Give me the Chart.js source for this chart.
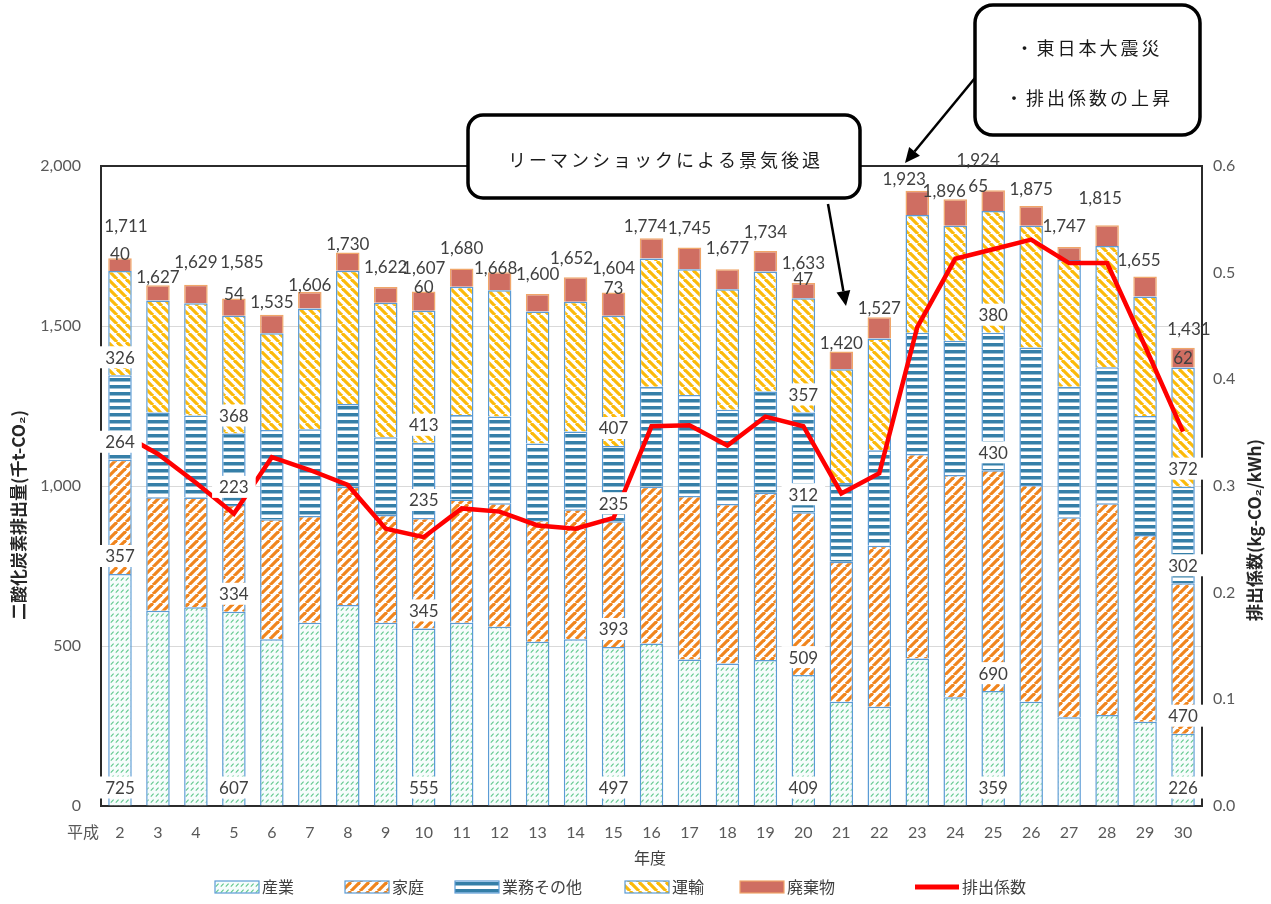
<!DOCTYPE html>
<html>
<head>
<meta charset="utf-8">
<script src="https://cdn.jsdelivr.net/npm/chart.js@4/dist/chart.umd.min.js"></script>
<style>
  html, body { margin: 0; padding: 0; background: #fff; }
</style>
</head>
<body>
<canvas id="chart" width="1271" height="904"></canvas>
<script>
// 平成 years
const years = ['2','3','4','5','6','7','8','9','10','11','12','13','14','15','16','17','18','19','20','21','22','23','24','25','26','27','28','29','30'];

// 千t-CO2 by sector
const industry   = [725,610,621,607,521,573,628,573,555,573,560,513,521,497,508,458,445,456,409,326,310,461,340,359,326,277,284,263,226];
const household  = [357,355,343,334,375,333,370,336,345,385,386,381,406,393,490,511,499,523,509,437,503,639,694,690,677,625,662,584,470];
const commercial = [264,265,256,223,279,271,258,243,235,264,271,239,243,235,312,315,294,316,312,246,299,379,420,430,430,408,425,372,302];
const transport  = [326,350,351,368,302,378,417,421,413,401,395,412,406,407,401,393,377,375,357,356,349,368,359,380,380,396,379,373,372];
const waste      = [40,47,58,54,58,51,57,49,60,57,56,55,76,73,63,68,62,64,47,55,66,76,83,65,62,41,65,63,62];
const totals     = [1711,1627,1629,1585,1535,1606,1730,1622,1607,1680,1668,1600,1652,1604,1774,1745,1677,1734,1633,1420,1527,1923,1896,1924,1875,1747,1815,1655,1431];

// kg-CO2/kWh
const factor = [0.350,0.330,0.303,0.274,0.327,0.315,0.301,0.260,0.252,0.279,0.276,0.263,0.260,0.270,0.356,0.357,0.338,0.365,0.356,0.293,0.312,0.449,0.513,0.522,0.531,0.509,0.509,0.431,0.351];

// years whose sector values are labelled
const labelledYears = ['2','5','10','15','20','25','30'];

// where the total labels sit (px above bar top, px sideways)
const totalLift = [32,8,22,36,12,7,8,19,23,20,4,19,19,24,12,19,21,19,20,8,9,11,8,30,16,20,27,16,18];
const totalDx   = [6,0,0,8,0,0,0,0,0,0,-4,0,-4,0,-6,0,0,0,0,0,0,-13,-11,-15,0,-5,-7,-6,6];

const canvas = document.getElementById('chart');
const ctx = canvas.getContext('2d');

const NUM_FONT = '17px Lato, "Noto Sans", sans-serif';
const JP_FONT = '"Noto Sans CJK JP", sans-serif';
const TEXT = '#404040';
const BAR_EDGE = '#5B9BD5';

function makePattern(w, h, draw) {
  const c = document.createElement('canvas');
  c.width = w; c.height = h;
  const g = c.getContext('2d');
  draw(g, w, h);
  return ctx.createPattern(c, 'repeat');
}

const pIndustry = makePattern(5, 6, (g, w, h) => {
  g.fillStyle = '#F6FCFC'; g.fillRect(0, 0, w, h);
  g.strokeStyle = '#5EC78B'; g.lineWidth = 1.1;
  g.beginPath(); g.moveTo(0.8, 4.6); g.lineTo(3.6, 1.6); g.stroke();
});
const pHousehold = makePattern(9, 9, (g, w, h) => {
  g.fillStyle = '#fff'; g.fillRect(0, 0, w, h);
  g.strokeStyle = '#F0851E'; g.lineWidth = 3.2;
  for (const o of [-w, 0, w]) { g.beginPath(); g.moveTo(o, h); g.lineTo(o + w, 0); g.stroke(); }
});
const pCommercial = makePattern(6, 7, (g, w, h) => {
  g.fillStyle = '#fff'; g.fillRect(0, 0, w, h);
  g.fillStyle = '#357FA8'; g.fillRect(0, 0, w, 3.5);
});
const pTransport = makePattern(9, 9, (g, w, h) => {
  g.fillStyle = '#fff'; g.fillRect(0, 0, w, h);
  g.strokeStyle = '#FBBA0A'; g.lineWidth = 3.2;
  for (const o of [-w, 0, w]) { g.beginPath(); g.moveTo(o, 0); g.lineTo(o + w, h); g.stroke(); }
});

function barSet(label, data, fill, edge) {
  return {
    type: 'bar', label, data, yAxisID: 'y', order: 1,
    backgroundColor: fill, borderColor: edge || BAR_EDGE, borderWidth: 1.5,
    barPercentage: 0.62, categoryPercentage: 1
  };
}

const seriesList = [industry, household, commercial, transport];

const frame = {
  id: 'frame',
  beforeDatasetsDraw(chart) {
    const a = chart.chartArea, c = chart.ctx;
    c.save();
    c.strokeStyle = '#2b2b2b'; c.lineWidth = 2;
    c.strokeRect(a.left, a.top, a.right - a.left, a.bottom - a.top);
    c.restore();
  }
};

const valueLabels = {
  id: 'valueLabels',
  afterDatasetsDraw(chart) {
    const c = chart.ctx;
    c.save();
    c.font = NUM_FONT; c.textAlign = 'center'; c.textBaseline = 'middle';
    years.forEach((yr, i) => {
      const top = chart.getDatasetMeta(4).data[i];
      if (labelledYears.includes(yr)) {
        for (let d = 0; d < 4; d++) {
          const el = chart.getDatasetMeta(d).data[i];
          const y = el.base - 18;
          const t = String(seriesList[d][i]);
          const w = c.measureText(t).width + 14;
          c.fillStyle = '#fff'; c.fillRect(el.x - w / 2, y - 11, w, 22);
          c.fillStyle = TEXT; c.fillText(t, el.x, y + 1);
        }
        const wy = i === years.length - 1 ? (top.y + top.base) / 2 : top.y - 5;
        const wx = top.x + (i === 23 ? totalDx[i] : 0);
        c.fillStyle = TEXT; c.fillText(String(waste[i]), wx, wy + 1);
      }
      c.fillStyle = TEXT;
      c.fillText(totals[i].toLocaleString('en-US'), top.x + totalDx[i], top.y - totalLift[i]);
    });
    c.restore();
  }
};

function arrow(c, x0, y0, x1, y1) {
  const ang = Math.atan2(y1 - y0, x1 - x0);
  const len = 15, half = 7;
  const bx = x1 - len * Math.cos(ang), by = y1 - len * Math.sin(ang);
  c.beginPath(); c.moveTo(x0, y0); c.lineTo(bx, by); c.stroke();
  c.beginPath();
  c.moveTo(x1, y1);
  c.lineTo(bx + half * Math.sin(ang), by - half * Math.cos(ang));
  c.lineTo(bx - half * Math.sin(ang), by + half * Math.cos(ang));
  c.closePath(); c.fill();
}

function callout(c, x, y, w, h, r, lines, lineYs) {
  c.save();
  c.fillStyle = '#fff'; c.strokeStyle = '#000'; c.lineWidth = 3.5;
  c.beginPath(); c.roundRect(x, y, w, h, r); c.fill(); c.stroke();
  c.fillStyle = '#1a1a1a';
  c.font = '18px ' + JP_FONT;
  c.letterSpacing = '3px';
  c.textAlign = 'center'; c.textBaseline = 'middle';
  lines.forEach((t, k) => c.fillText(t, x + w / 2 + 1.5, lineYs[k]));
  c.restore();
}

const extras = {
  id: 'extras',
  afterDraw(chart) {
    const c = chart.ctx;
    c.save();
    // axis titles
    c.fillStyle = '#262626';
    c.font = 'bold 17px ' + JP_FONT;
    c.textAlign = 'center'; c.textBaseline = 'middle';
    c.save(); c.translate(19, 515); c.rotate(-Math.PI / 2);
    c.fillText('二酸化炭素排出量(千t-CO₂)', 0, 0); c.restore();
    c.save(); c.translate(1255, 530); c.rotate(-Math.PI / 2);
    c.fillText('排出係数(kg-CO₂/kWh)', 0, 0); c.restore();

    c.font = '16px ' + JP_FONT; c.fillStyle = '#595959';
    c.fillText('平成', 83, 832);
    c.fillStyle = TEXT;
    c.fillText('年度', 650, 858);

    // legend
    const lx = [215, 345, 455, 625, 740, 915];
    const ly = 887;
    c.textAlign = 'left';
    chart.data.datasets.forEach((ds, k) => {
      const x = lx[k];
      if (ds.type === 'line') {
        c.fillStyle = ds.borderColor; c.fillRect(x, ly - 2.5, 44, 5);
      } else {
        c.fillStyle = ds.backgroundColor; c.fillRect(x, ly - 6, 44, 12);
        c.strokeStyle = ds.borderColor; c.lineWidth = 1.2; c.strokeRect(x, ly - 6, 44, 12);
      }
      c.fillStyle = TEXT; c.font = '16px ' + JP_FONT;
      c.fillText(ds.label, x + 47, ly);
    });

    // callouts
    c.strokeStyle = '#000'; c.fillStyle = '#000'; c.lineWidth = 2.5;
    arrow(c, 828, 204, 846, 306);
    arrow(c, 975, 78, 905, 163);
    callout(c, 468, 115, 392, 83, 15, ['リーマンショックによる景気後退'], [160]);
    callout(c, 975, 5, 225, 130, 18, ['・東日本大震災', '・排出係数の上昇'], [48, 98]);
    c.restore();
  }
};

new Chart(ctx, {
  data: {
    labels: years,
    datasets: [
      barSet('産業', industry, pIndustry),
      barSet('家庭', household, pHousehold),
      barSet('業務その他', commercial, pCommercial),
      barSet('運輸', transport, pTransport),
      barSet('廃棄物', waste, '#CF6E62', '#F0A66A'),
      {
        type: 'line', label: '排出係数', data: factor, yAxisID: 'y1', order: 0,
        borderColor: '#FF0000', backgroundColor: '#FF0000', borderWidth: 4.5,
        pointRadius: 0, tension: 0, borderJoinStyle: 'miter'
      }
    ]
  },
  options: {
    responsive: false,
    animation: false,
    layout: { padding: { top: 166, left: 0, right: 0, bottom: 0 } },
    plugins: { legend: { display: false }, tooltip: { enabled: false } },
    scales: {
      x: {
        stacked: true,
        grid: { display: false, drawTicks: false },
        border: { display: false },
        ticks: { color: '#595959', font: { size: 16, family: 'Lato' }, padding: 17, maxRotation: 0, autoSkip: false },
        afterFit(s) { s.height = 98; }
      },
      y: {
        stacked: true, position: 'left', min: 0, max: 2000,
        grid: { color: '#D9D9D9', drawTicks: false },
        border: { display: false },
        ticks: {
          stepSize: 500, color: '#595959', font: { size: 16, family: 'Lato' }, padding: 20,
          callback: v => v.toLocaleString('en-US')
        },
        afterFit(s) { s.width = 101; }
      },
      y1: {
        position: 'right', min: 0, max: 0.6,
        grid: { drawOnChartArea: false, drawTicks: false },
        border: { display: false },
        ticks: {
          stepSize: 0.1, color: '#595959', font: { size: 16, family: 'Lato' }, padding: 11,
          callback: v => v.toFixed(1)
        },
        afterFit(s) { s.width = 69; }
      }
    }
  },
  plugins: [frame, valueLabels, extras]
});
</script>
</body>
</html>
